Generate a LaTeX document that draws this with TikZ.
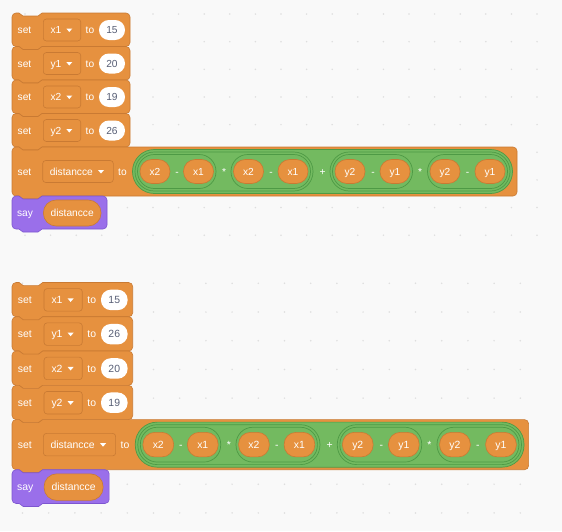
\documentclass[tikz,border=0pt]{standalone}
\usepackage{fontspec}
\setmainfont{Liberation Sans}
\usetikzlibrary{positioning}

\definecolor{canvas}{HTML}{F9F9F9}
\definecolor{varfill}{HTML}{E6913F}
\definecolor{varline}{HTML}{C97A33}
\definecolor{opfill}{HTML}{73BA60}
\definecolor{opline}{HTML}{4E9A45}
\definecolor{sayfill}{HTML}{9A6FEA}
\definecolor{sayline}{HTML}{7D56D0}
\definecolor{numtext}{HTML}{575E75}

\newcommand{\blockfont}{\fontsize{10.2}{12}\selectfont}
% stack block outline: style, top, bottom, right
\newcommand{\blockshape}[4]{%
  \draw[#1] (0,#2+4) arc (180:270:4) -- (7,#2) -- (11,#2+3) -- (26,#2+3) -- (30,#2)
    -- (#4-4,#2) arc (270:360:4) -- (#4,#3-4) arc (0:90:4) -- (30,#3) -- (26,#3+3)
    -- (11,#3+3) -- (7,#3) -- (4,#3) arc (90:180:4) -- cycle;}

\begin{document}
\begin{tikzpicture}[
    x=1pt, y=-1pt,
    every node/.style={inner sep=0pt, font=\blockfont, text height=7.3pt, text depth=0pt},
    lbl/.style={text=white},
    setblk/.style={fill=varfill, draw=varline, line width=0.6pt},
    sayblk/.style={fill=sayfill, draw=sayline, line width=0.6pt},
    vardrop/.style={fill=varfill, draw=varline, line width=0.6pt, rounded corners=3pt, minimum height=22pt},
    numin/.style={fill=white, text=numtext, minimum width=26pt, minimum height=20pt, rounded corners=9.8pt},
    varrep/.style={fill=varfill, draw=varline, line width=0.6pt, text=white, minimum width=30pt, minimum height=24pt, rounded corners=11.8pt},
    oppill/.style={fill=opfill, draw=opline, line width=0.7pt},
    sumpill/.style={oppill, minimum height=44pt, rounded corners=21.8pt},
    prodpill/.style={oppill, minimum height=39pt, rounded corners=19.3pt},
    diffpill/.style={oppill, minimum height=34pt, rounded corners=16.8pt},
    gridot/.style={fill=black!13},
]

% Canvas
\fill[canvas] (0,0) rectangle (562,531);
\useasboundingbox (0,0) rectangle (562,531);
\foreach \k in {0,...,20} \foreach \j in {0,...,8}
  \fill[gridot] (25+25.6*\k,14+27.65*\j) circle (0.85);
\foreach \k in {0,...,19} \foreach \j in {0,...,8}
  \fill[gridot] (22.5+26.2*\k,283.3+28.7*\j) circle (0.85);

% First stack
\begin{scope}[shift={(12,13)}]
  \foreach \i/\nm/\val in {0/x1/15, 1/y1/20, 2/x2/19, 3/y2/26} {
    \blockshape{setblk}{33.5*\i}{33.5*\i+33.5}{118}
    \node[lbl] (aset\i) at (12.5,33.5*\i+17) {set};
    \node[vardrop, minimum width=37.4pt] (adrop\i) at (50,33.5*\i+17) {};
    \node[lbl] (avar\i) at (44,33.5*\i+17) {\nm};
    \fill[white] (54.3,33.5*\i+15.5) -- ++(6,0) -- ++(-3,3.5) -- cycle;
    \node[lbl] (ato\i) at (78,33.5*\i+17) {to};
    \node[numin] (anum\i) at (100,33.5*\i+17) {\val};
  }

  % set distancce to ...
  \blockshape{setblk}{134}{183}{505}
  \node[lbl] (asetd) at (12.5,158.5) {set};
  \node[vardrop, minimum width=70.6pt] (adropd) at (66,158.5) {};
  \node[lbl] (avard) at (59.3,158.5) {distancce};
  \fill[white] (86,157) -- ++(6,0) -- ++(-3,3.5) -- cycle;
  \node[lbl] (atod) at (110.5,158.5) {to};

  % nested operators
  \node[sumpill, minimum width=380pt] (asum) at (310.5,158.5) {};
  \node[prodpill, minimum width=178pt] (aprod1) at (212,158.5) {};
  \node[prodpill, minimum width=180pt] (aprod2) at (408,158.5) {};
  \node[diffpill, minimum width=78.5pt] (adiff1) at (164.75,158.5) {};
  \node[diffpill, minimum width=79.5pt] (adiff2) at (258.75,158.5) {};
  \node[diffpill, minimum width=80pt] (adiff3) at (360.5,158.5) {};
  \node[diffpill, minimum width=80pt] (adiff4) at (455.5,158.5) {};

  \node[varrep] (ar1) at (143,158.5) {x2};
  \node[lbl] (aop1) at (165,158.5) {-};
  \node[varrep] (ar2) at (186.5,158.5) {x1};
  \node[lbl] (aop2) at (212,158.5) {*};
  \node[varrep] (ar3) at (236.5,158.5) {x2};
  \node[lbl] (aop3) at (259,158.5) {-};
  \node[varrep] (ar4) at (281,158.5) {x1};
  \node[lbl] (aop4) at (310.5,158.5) {+};
  \node[varrep] (ar5) at (338,158.5) {y2};
  \node[lbl] (aop5) at (361,158.5) {-};
  \node[varrep] (ar6) at (383,158.5) {y1};
  \node[lbl] (aop6) at (408,158.5) {*};
  \node[varrep] (ar7) at (433,158.5) {y2};
  \node[lbl] (aop7) at (455.5,158.5) {-};
  \node[varrep] (ar8) at (478,158.5) {y1};

  % say
  \blockshape{sayblk}{183}{216}{95}
  \node[lbl] (asay) at (13,200) {say};
  \node[varrep, minimum width=57.7pt, minimum height=26pt, rounded corners=12.8pt] (asaydist) at (60.2,200) {distancce};
\end{scope}

% Second stack
\begin{scope}[shift={(12,282.5)}, scale=1.023, transform shape]
  \foreach \i/\nm/\val in {0/x1/15, 1/y1/26, 2/x2/20, 3/y2/19} {
    \blockshape{setblk}{33.5*\i}{33.5*\i+33.5}{118}
    \node[lbl] (bset\i) at (12.5,33.5*\i+17) {set};
    \node[vardrop, minimum width=37.4pt] (bdrop\i) at (50,33.5*\i+17) {};
    \node[lbl] (bvar\i) at (44,33.5*\i+17) {\nm};
    \fill[white] (54.3,33.5*\i+15.5) -- ++(6,0) -- ++(-3,3.5) -- cycle;
    \node[lbl] (bto\i) at (78,33.5*\i+17) {to};
    \node[numin] (bnum\i) at (100,33.5*\i+17) {\val};
  }

  % set distancce to ...
  \blockshape{setblk}{134}{183}{505}
  \node[lbl] (bsetd) at (12.5,158.5) {set};
  \node[vardrop, minimum width=70.6pt] (bdropd) at (66,158.5) {};
  \node[lbl] (bvard) at (59.3,158.5) {distancce};
  \fill[white] (86,157) -- ++(6,0) -- ++(-3,3.5) -- cycle;
  \node[lbl] (btod) at (110.5,158.5) {to};

  % nested operators
  \node[sumpill, minimum width=380pt] (bsum) at (310.5,158.5) {};
  \node[prodpill, minimum width=178pt] (bprod1) at (212,158.5) {};
  \node[prodpill, minimum width=180pt] (bprod2) at (408,158.5) {};
  \node[diffpill, minimum width=78.5pt] (bdiff1) at (164.75,158.5) {};
  \node[diffpill, minimum width=79.5pt] (bdiff2) at (258.75,158.5) {};
  \node[diffpill, minimum width=80pt] (bdiff3) at (360.5,158.5) {};
  \node[diffpill, minimum width=80pt] (bdiff4) at (455.5,158.5) {};

  \node[varrep] (br1) at (143,158.5) {x2};
  \node[lbl] (bop1) at (165,158.5) {-};
  \node[varrep] (br2) at (186.5,158.5) {x1};
  \node[lbl] (bop2) at (212,158.5) {*};
  \node[varrep] (br3) at (236.5,158.5) {x2};
  \node[lbl] (bop3) at (259,158.5) {-};
  \node[varrep] (br4) at (281,158.5) {x1};
  \node[lbl] (bop4) at (310.5,158.5) {+};
  \node[varrep] (br5) at (338,158.5) {y2};
  \node[lbl] (bop5) at (361,158.5) {-};
  \node[varrep] (br6) at (383,158.5) {y1};
  \node[lbl] (bop6) at (408,158.5) {*};
  \node[varrep] (br7) at (433,158.5) {y2};
  \node[lbl] (bop7) at (455.5,158.5) {-};
  \node[varrep] (br8) at (478,158.5) {y1};

  % say
  \blockshape{sayblk}{183}{216}{95}
  \node[lbl] (bsay) at (13,200) {say};
  \node[varrep, minimum width=57.7pt, minimum height=26pt, rounded corners=12.8pt] (bsaydist) at (60.2,200) {distancce};
\end{scope}

\end{tikzpicture}
\end{document}
